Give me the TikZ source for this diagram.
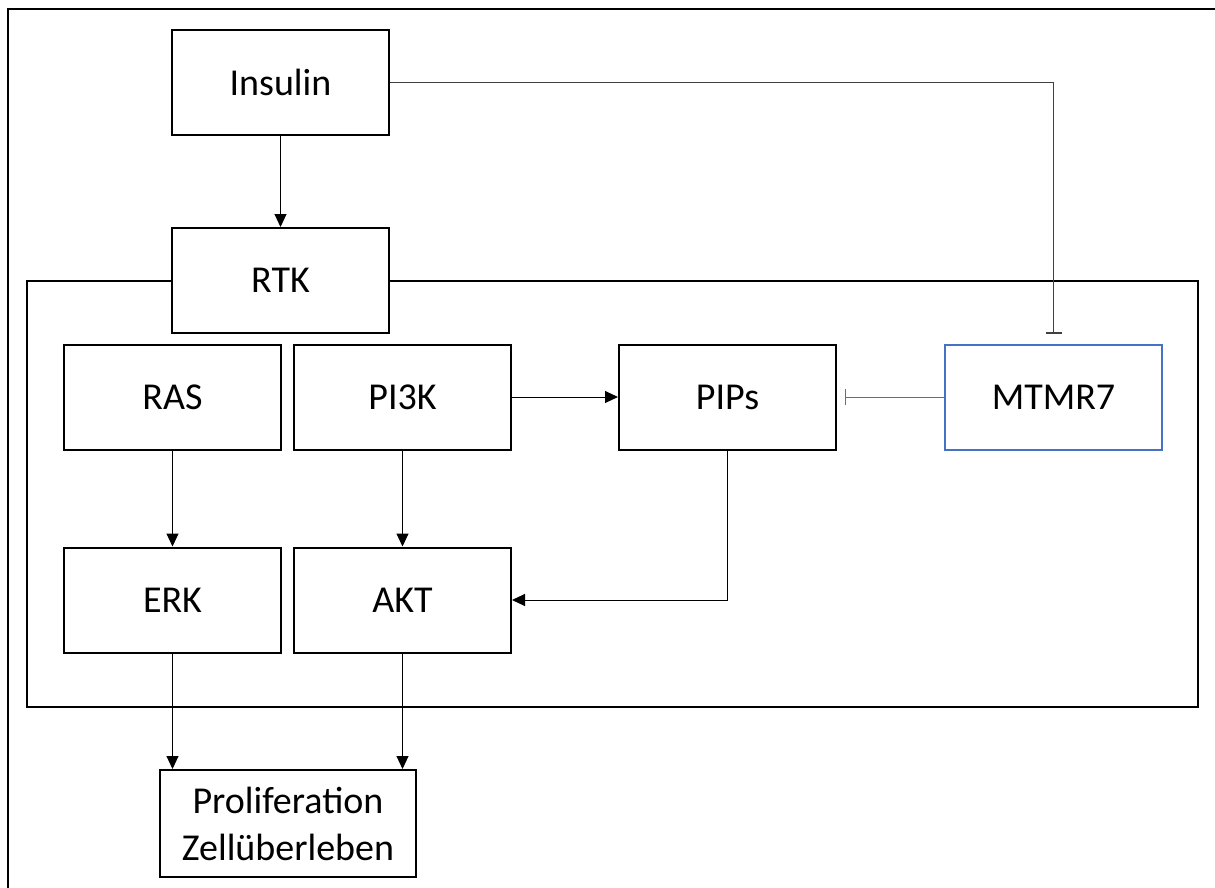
\documentclass[tikz,border=0pt]{standalone}
\usepackage{fontspec}
\setmainfont{Carlito}
\usetikzlibrary{arrows.meta}
\definecolor{mtblue}{HTML}{4472C4}
\tikzset{
  box/.style={draw=black, line width=2pt, minimum width=217pt, minimum height=105pt,
    inner sep=0pt, font=\fontsize{38}{46}\selectfont, align=center},
  conn/.style={draw=black, line width=1pt, -{Triangle[length=13pt,width=12pt]}},
  inhib/.style={line width=1pt, -{Bar[width=16pt,line width=1.3pt]}},
}
\begin{document}
\begin{tikzpicture}[x=1pt,y=-1pt]
\useasboundingbox (0,0) rectangle (1215,888);
\fill[white] (0,0) rectangle (1215,888);
% outer frame (top and left edges)
\draw[line width=2.5pt] (8,1000) -- (8,9) -- (1300,9);
% cell container
\draw[line width=2pt, fill=white] (27,281) rectangle (1198,707);

% nodes
\node[box, fill=white] (ins) at (280.5,82.5) {Insulin};
\node[box, fill=white] (rtk) at (280.5,280.5) {RTK};
\node[box] (ras) at (172.5,397) {RAS};
\node[box] (pi3k) at (402.5,397) {PI3K};
\node[box] (pips) at (727.5,397) {PIPs};
\node[box, draw=mtblue] (mtmr) at (1053.5,397) {MTMR7};
\node[box] (erk) at (172.5,600) {ERK};
\node[box] (akt) at (402.5,600) {AKT};
\node[box, minimum width=256pt, minimum height=107pt, font=\fontsize{38}{47}\selectfont]
  (prol) at (288,823.5) {Proliferation\\Zellüberleben};

% activating connectors
\draw[conn] (ins.south) -- (rtk.north);
\draw[conn] (pi3k.east) -- (pips.west);
\draw[conn] (ras.south) -- (erk.north);
\draw[conn] (pi3k.south) -- (akt.north);
\draw[conn] (pips.south) |- (akt.east);
\draw[conn] (erk.south) -- (erk.south |- prol.north);
\draw[conn] (akt.south) -- (akt.south |- prol.north);

% inhibitory connectors
\coordinate (corner) at (mtmr.north |- ins.east);
\draw[inhib, draw=black!75, shorten >=10pt] (ins.east) -- (corner) -- (mtmr.north);
\draw[inhib, draw=mtblue, shorten >=8pt] (mtmr.west) -- (pips.east);
\end{tikzpicture}
\end{document}
